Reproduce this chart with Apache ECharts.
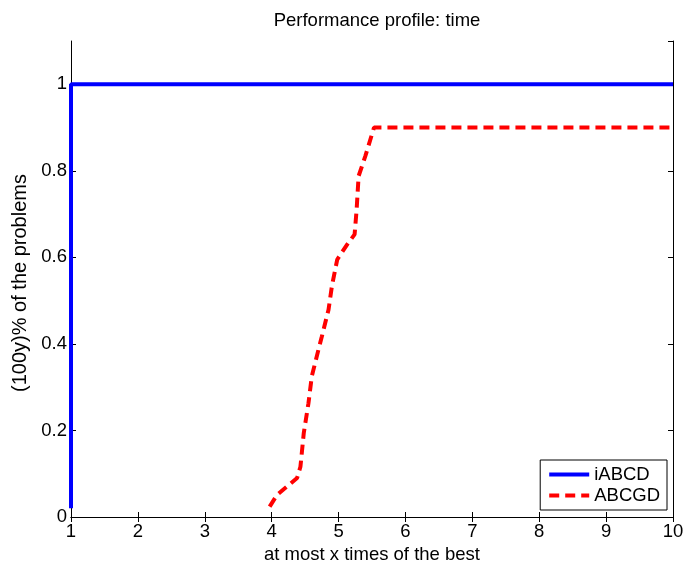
<!DOCTYPE html>
<html>
<head>
<meta charset="utf-8">
<script src="https://cdn.jsdelivr.net/npm/echarts@6/dist/echarts.min.js"></script>
<style>
  html, body { margin: 0; padding: 0; background: #fff; }
  #chart { width: 686px; height: 564px; }
</style>
</head>
<body>
<div id="chart"></div>
<script>
// iABCD profile
const iabcdPoints = [[1, 0.02], [1, 1], [10, 1]];
// ABCGD profile
const abcgdPoints = [
  [3.97, 0.024], [4.08, 0.051], [4.38, 0.09], [4.43, 0.116], [4.48, 0.194],
  [4.55, 0.263], [4.60, 0.325], [4.70, 0.387], [4.75, 0.417], [4.85, 0.479],
  [4.90, 0.533], [4.98, 0.595], [5.13, 0.63], [5.24, 0.653], [5.27, 0.71],
  [5.30, 0.788], [5.40, 0.834], [5.53, 0.90], [10, 0.90]
];
const seriesNames = ['iABCD', 'ABCGD'];

const font = 'Liberation Sans, Arial, sans-serif';
const fs = 18.5;
const chart = echarts.init(document.getElementById('chart'));

const option = {
    animation: false,
    title: {
        text: 'Performance profile: time',
        left: 372,
        textAlign: 'center',
        top: 6,
        textStyle: { fontFamily: font, fontSize: fs, fontWeight: 'normal', color: '#000' }
    },
    grid: { left: 71, right: 13, top: 41, bottom: 47, containLabel: false, outerBoundsMode: 'none' },
    legend: {
        data: seriesNames,
        orient: 'vertical',
        right: 19,
        bottom: 54,
        itemWidth: 40,
        itemHeight: 12,
        itemGap: 2,
        padding: [5, 7, 5, 7],
        borderColor: '#000',
        borderWidth: 1,
        borderRadius: 0,
        backgroundColor: '#fff',
        itemStyle: { opacity: 0 },
        lineStyle: { width: 4 },
        textStyle: { fontFamily: font, fontSize: fs, color: '#000' }
    },
    xAxis: [
        {
            type: 'value', min: 1, max: 10, interval: 1,
            name: 'at most x times of the best',
            nameLocation: 'middle', nameGap: 24,
            nameTextStyle: { fontFamily: font, fontSize: fs, color: '#000' },
            axisLine: { lineStyle: { color: '#000', width: 1 } },
            axisTick: { inside: true, length: 5, lineStyle: { color: '#000' } },
            axisLabel: { fontFamily: font, fontSize: fs, color: '#000', margin: 5 },
            splitLine: { show: false }
        },
        {
            type: 'value', min: 1, max: 10, interval: 1, position: 'top',
            axisLine: { lineStyle: { color: '#000', width: 1 } },
            axisTick: { inside: true, length: 5, lineStyle: { color: '#000' } },
            axisLabel: { show: false },
            splitLine: { show: false }
        }
    ],
    yAxis: [
        {
            type: 'value', min: 0, max: 1.1, interval: 0.2,
            name: '(100y)% of the problems',
            nameLocation: 'middle', nameGap: 35,
            nameTextStyle: { fontFamily: font, fontSize: 20, color: '#000', padding: [0, 8, 0, 0] },
            axisLine: { show: true, lineStyle: { color: '#000', width: 1 } },
            axisTick: { show: true, inside: true, length: 5, lineStyle: { color: '#000' } },
            axisLabel: { fontFamily: font, fontSize: fs, color: '#000', margin: 4, showMaxLabel: false },
            splitLine: { show: false }
        },
        {
            type: 'value', min: 0, max: 1.1, interval: 0.2, position: 'right',
            axisLine: { show: true, lineStyle: { color: '#000', width: 1 } },
            axisTick: { show: true, inside: true, length: 5, lineStyle: { color: '#000' } },
            axisLabel: { show: false },
            splitLine: { show: false }
        }
    ],
    series: [
        {
            name: seriesNames[0],
            type: 'line',
            data: iabcdPoints,
            showSymbol: false,
            symbol: 'none',
            color: '#0000ff',
            lineStyle: { color: '#0000ff', width: 4 }
        },
        {
            name: seriesNames[1],
            type: 'line',
            data: abcgdPoints,
            showSymbol: false,
            symbol: 'none',
            color: '#ff0000',
            lineStyle: { color: '#ff0000', width: 4, type: [10, 6] }
        }
    ]
};

chart.setOption(option);
</script>
</body>
</html>
